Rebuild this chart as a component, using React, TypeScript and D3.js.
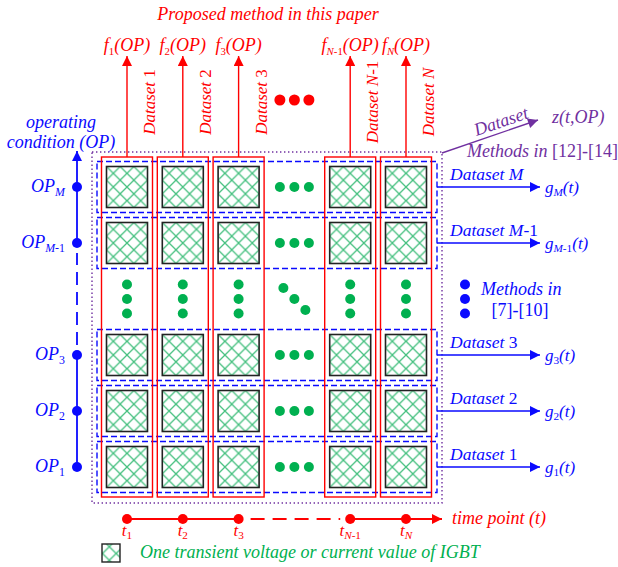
import * as React from 'react';
import * as d3 from 'd3';

// slots of the grid; the 'dots' slot is the gap shown with ellipsis dots
const colKeys = ['1', '2', '3', 'dots', 'N-1', 'N'];
const rowKeys = ['1', '2', '3', 'dots', 'M-1', 'M'];
const dataCols = ['1', '2', '3', 'N-1', 'N'];
const dataRows = ['1', '2', '3', 'M-1', 'M'];

const titleText = 'Proposed method in this paper';
const opAxisTitle = ['operating', 'condition (OP)'];
const timeAxisTitle = 'time point (t)';
const legendText = 'One transient voltage or current value of IGBT';
const methodsRight = ['Methods in', '[7]-[10]'];
const methodsTop = ['Methods in ', '[12]-[14]'];
const zLabel = 'z(t,OP)';

const RED = '#ff0000';
const BLUE = '#0a0aff';
const PURPLE = '#7030a0';
const GREEN = '#00b050';
const FONT = "'Liberation Serif', 'Times New Roman', Times, serif";

type Part = { t: string; it?: boolean; sub?: boolean };

// letters italic, digits and dashes upright
const mixed = (s: string, sub = false): Part[] =>
  s.split(/([A-Za-z]+)/).filter(Boolean).map(p => ({ t: p, it: /[A-Za-z]/.test(p), sub }));

const fLabel = (k: string): Part[] => [{ t: 'f', it: true }, ...mixed(k, true), { t: '(OP)', it: true }];
const gLabel = (k: string): Part[] => [{ t: 'g', it: true }, ...mixed(k, true), { t: '(t)', it: true }];
const opLabel = (k: string): Part[] => [{ t: 'OP', it: true }, ...mixed(k, true)];
const tLabel = (k: string): Part[] => [{ t: 't', it: true }, ...mixed(k, true)];
const dsLabel = (k: string): Part[] => [{ t: 'Dataset ', it: true }, ...mixed(k)];

const spans = (parts: Part[], size: number, subScale = 0.66) => {
  let down = false;
  return parts.map((p, i) => {
    let dy: number | undefined;
    if (p.sub && !down) { dy = size * 0.2; down = true; }
    else if (!p.sub && down) { dy = -size * 0.2; down = false; }
    return (
      <tspan key={i} dy={dy} fontSize={p.sub ? size * subScale : size} fontStyle={p.it ? 'italic' : 'normal'}>
        {p.t}
      </tspan>
    );
  });
};

const App: React.FC = () => {
  const W = 618, H = 567;

  const x = d3.scalePoint<string>().domain(colKeys).range([127, 406]);
  const y = d3.scalePoint<string>().domain(rowKeys).range([467, 187]);

  const cell = 41;
  const box = 51;
  const gridTop = 157, gridBottom = 497;
  const gridLeft = 97, gridRight = 437;
  const axisX = 77;
  const timeY = 519;
  const dotsX = x('dots')!;
  const dotsY = y('dots')!;
  const ell = [-14.5, 0, 14.5];
  const fs = 18;

  const arrow = (id: string, color: string, len = 11, wid = 10) => (
    <marker id={id} viewBox="0 0 10 10" refX={10} refY={5} markerWidth={len} markerHeight={wid}
      markerUnits="userSpaceOnUse" orient="auto">
      <path d="M0,0L10,5L0,10z" fill={color} />
    </marker>
  );

  return (
    <svg width={W} height={H} style={{ position: 'absolute', left: 0, top: 0, background: '#fff', fontFamily: FONT }}>
      <defs>
        {arrow('ar', RED)}
        {arrow('ab', BLUE, 13, 10)}
        {arrow('ap', PURPLE, 13, 10)}
        <pattern id="hatch" patternUnits="userSpaceOnUse" width={cell / 3} height={cell / 3}>
          <path d={`M0,0L${cell / 3},${cell / 3}M${cell / 3},0L0,${cell / 3}`} stroke="#45c07f" strokeWidth={1.3} />
        </pattern>
      </defs>

      {/* title */}
      <text x={268} y={20} textAnchor="middle" fill={RED} fontSize={fs} fontStyle="italic">{titleText}</text>

      {/* outer dotted box */}
      <rect x={92} y={152} width={350} height={351} fill="none" stroke={PURPLE} strokeWidth={1.4} strokeDasharray="1.4,2.6" />

      {/* row (operating condition) dashed boxes */}
      {dataRows.map(r => (
        <rect key={r} x={gridLeft} y={y(r)! - box / 2} width={gridRight - gridLeft} height={box}
          fill="none" stroke={BLUE} strokeWidth={1.4} strokeDasharray="6,3" />
      ))}

      {/* column (time point) boxes */}
      {dataCols.map(c => (
        <rect key={c} x={x(c)! - box / 2} y={gridTop} width={box} height={gridBottom - gridTop}
          fill="none" stroke={RED} strokeWidth={1.4} />
      ))}

      {/* cells */}
      {dataRows.map(r => dataCols.map(c => (
        <g key={r + c} transform={`translate(${x(c)! - cell / 2},${y(r)! - cell / 2})`}>
          <rect width={cell} height={cell} fill="url(#hatch)" stroke="#222" strokeWidth={1.6} />
        </g>
      )))}

      {/* ellipsis dots inside the grid */}
      {dataRows.map(r => ell.map((d, i) => (
        <circle key={r + i} cx={dotsX + d} cy={y(r)} r={5} fill={GREEN} />
      )))}
      {dataCols.map(c => ell.map((d, i) => (
        <circle key={c + i} cx={x(c)} cy={dotsY + d} r={5} fill={GREEN} />
      )))}
      {[-11, 0, 11].map((d, i) => (
        <circle key={'diag' + i} cx={dotsX + d} cy={dotsY + d} r={5} fill={GREEN} />
      ))}

      {/* top: proposed method per time point */}
      {dataCols.map(c => (
        <g key={'top' + c}>
          <line x1={x(c)} x2={x(c)} y1={gridTop} y2={56} stroke={RED} strokeWidth={1.4} markerEnd="url(#ar)" />
          <text x={x(c)} y={51} textAnchor="middle" fill={RED}>{spans(fLabel(c), fs, 0.6)}</text>
          <text transform={`translate(${x(c)! + 28},102) rotate(-90)`} textAnchor="middle" fill={RED}>
            {spans(dsLabel(c), 17)}
          </text>
        </g>
      ))}
      {ell.map((d, i) => <circle key={'rd' + i} cx={dotsX + d} cy={100} r={5.5} fill={RED} />)}

      {/* left: operating condition axis */}
      <text x={61} y={128} textAnchor="middle" fill={BLUE} fontSize={fs} fontStyle="italic">{opAxisTitle[0]}</text>
      <text x={61} y={148} textAnchor="middle" fill={BLUE} fontSize={fs} fontStyle="italic">{opAxisTitle[1]}</text>
      <line x1={axisX} x2={axisX} y1={y('1')} y2={y('3')} stroke={BLUE} strokeWidth={1.8} />
      <line x1={axisX} x2={axisX} y1={y('3')! - 10} y2={y('M-1')! + 10} stroke={BLUE} strokeWidth={1.8} strokeDasharray="13,7" />
      <line x1={axisX} x2={axisX} y1={y('M-1')} y2={151} stroke={BLUE} strokeWidth={1.8} markerEnd="url(#ab)" />
      {dataRows.map(r => (
        <g key={'op' + r}>
          <circle cx={axisX} cy={y(r)} r={5} fill={BLUE} />
          <text x={65} y={y(r)! + 5} textAnchor="end" fill={BLUE}>{spans(opLabel(r), fs)}</text>
        </g>
      ))}

      {/* right: methods per operating condition */}
      {dataRows.map(r => (
        <g key={'g' + r}>
          <line x1={gridRight} x2={540} y1={y(r)} y2={y(r)} stroke={BLUE} strokeWidth={1.4} markerEnd="url(#ab)" />
          <text x={450} y={y(r)! - 7} fill={BLUE}>{spans(dsLabel(r), 17.5)}</text>
          <text x={545} y={y(r)! + 6} fill={BLUE}>{spans(gLabel(r), 17)}</text>
        </g>
      ))}
      {ell.map((d, i) => <circle key={'bd' + i} cx={465} cy={dotsY + d} r={5} fill={BLUE} />)}
      <text x={481} y={295} fill={BLUE} fontSize={fs} fontStyle="italic">{methodsRight[0]}</text>
      <text x={520} y={316} textAnchor="middle" fill={BLUE} fontSize={fs}>{methodsRight[1]}</text>

      {/* top right: whole-dataset methods */}
      <line x1={442} y1={153} x2={538} y2={120} stroke={PURPLE} strokeWidth={1.4} markerEnd="url(#ap)" />
      <text transform="translate(503,127) rotate(-19)" textAnchor="middle" fill={PURPLE} fontSize={fs} fontStyle="italic">Dataset</text>
      <text x={552} y={123} fill={PURPLE} fontSize={fs} fontStyle="italic">{zLabel}</text>
      <text x={467} y={157} fill={PURPLE} fontSize={fs}>
        <tspan fontStyle="italic">{methodsTop[0]}</tspan><tspan>{methodsTop[1]}</tspan>
      </text>

      {/* bottom: time axis */}
      <line x1={x('1')} x2={x('3')} y1={timeY} y2={timeY} stroke={RED} strokeWidth={1.8} />
      <line x1={x('3')! + 12} x2={x('N-1')! - 10} y1={timeY} y2={timeY} stroke={RED} strokeWidth={1.8} strokeDasharray="14,8" />
      <line x1={x('N-1')} x2={442} y1={timeY} y2={timeY} stroke={RED} strokeWidth={1.8} markerEnd="url(#ar)" />
      {dataCols.map(c => (
        <g key={'t' + c}>
          <circle cx={x(c)} cy={timeY} r={5} fill={RED} />
          <text x={x(c)} y={536} textAnchor="middle" fill={RED}>{spans(tLabel(c), 17)}</text>
        </g>
      ))}
      <text x={452} y={524} fill={RED} fontSize={fs} fontStyle="italic">{timeAxisTitle}</text>

      {/* legend */}
      <rect x={102} y={544} width={18} height={18} fill="url(#hatch)" stroke="#222" strokeWidth={1.4} />
      <text x={140} y={558} fill={GREEN} fontSize={fs} fontStyle="italic">{legendText}</text>
    </svg>
  );
};

export default App;
